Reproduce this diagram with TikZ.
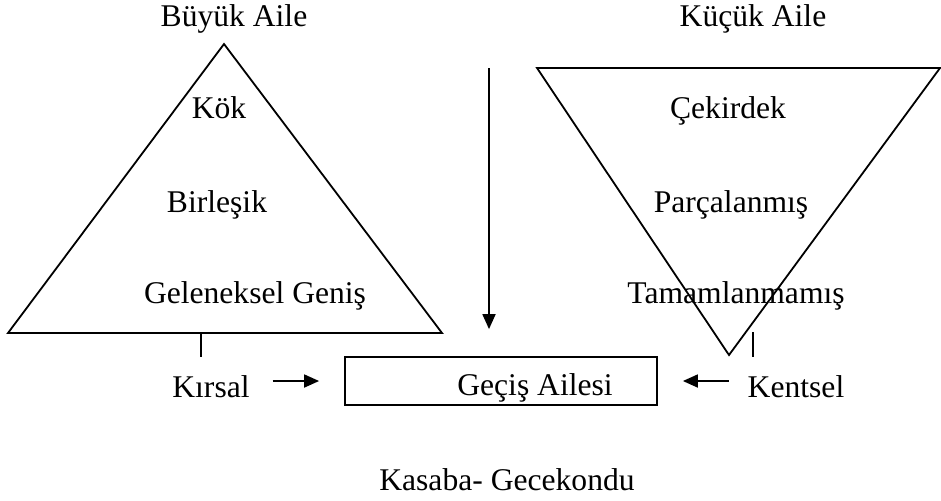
\documentclass[tikz,border=0pt]{standalone}
\usepackage{fontspec}
\setmainfont{Liberation Serif}
\usetikzlibrary{arrows.meta}

\begin{document}
\begin{tikzpicture}[x=0.5pt, y=-0.5pt, line width=0.9pt,
    lbl/.style = {anchor=base, inner sep=0pt, font=\fontsize{15.8}{19}\selectfont},
    box/.style = {draw, minimum width=156pt, minimum height=24pt, inner sep=0pt},
    arr/.style = {-{Triangle[length=7.5pt, width=6.5pt]}}]
            \useasboundingbox (0, 0) rectangle (941, 500);

            % buyuk aile
            \node[lbl] at (234, 26) (buyuk) {Büyük Aile};
            \draw (8, 333) -- (224, 44) -- (442, 333) -- cycle;
            \node[lbl] at (219, 118) (kok) {Kök};
            \node[lbl] at (217, 212) (birlesik) {Birleşik};
            \node[lbl] at (255, 303) (genis) {Geleneksel Geniş};
            \draw (201, 333) -- (201, 357);

            % kucuk aile
            \node[lbl] at (753, 26) (kucuk) {Küçük Aile};
            \draw (537, 68) -- (940, 68) -- (729, 355) -- cycle;
            \node[lbl] at (728, 118) (cekirdek) {Çekirdek};
            \node[lbl] at (731, 212) (parca) {Parçalanmış};
            \node[lbl] at (736, 303) (tamam) {Tamamlanmamış};
            \draw (753, 332) -- (753, 357);

            % gecis
            \node[box] at (501, 381) (gecis) {};
            \node[lbl] at (535, 395) (gecisAd) {Geçiş Ailesi};
            \node[lbl] at (211, 397) (kirsal) {Kırsal};
            \node[lbl] at (796, 397) (kentsel) {Kentsel};
            \node[lbl] at (507, 490) (kasaba) {Kasaba- Gecekondu};
            \coordinate (ust) at (489, 68);

            \draw [arr, shorten <=11pt, shorten >=12.5pt] (kirsal.east |- gecis.west) -- (gecis.west);
            \draw [arr, shorten <=9pt, shorten >=12.5pt] (kentsel.west |- gecis.east) -- (gecis.east);
            \draw [arr, shorten >=13.5pt] (ust) -- (ust |- gecis.north);
            \end{tikzpicture}
\end{document}
